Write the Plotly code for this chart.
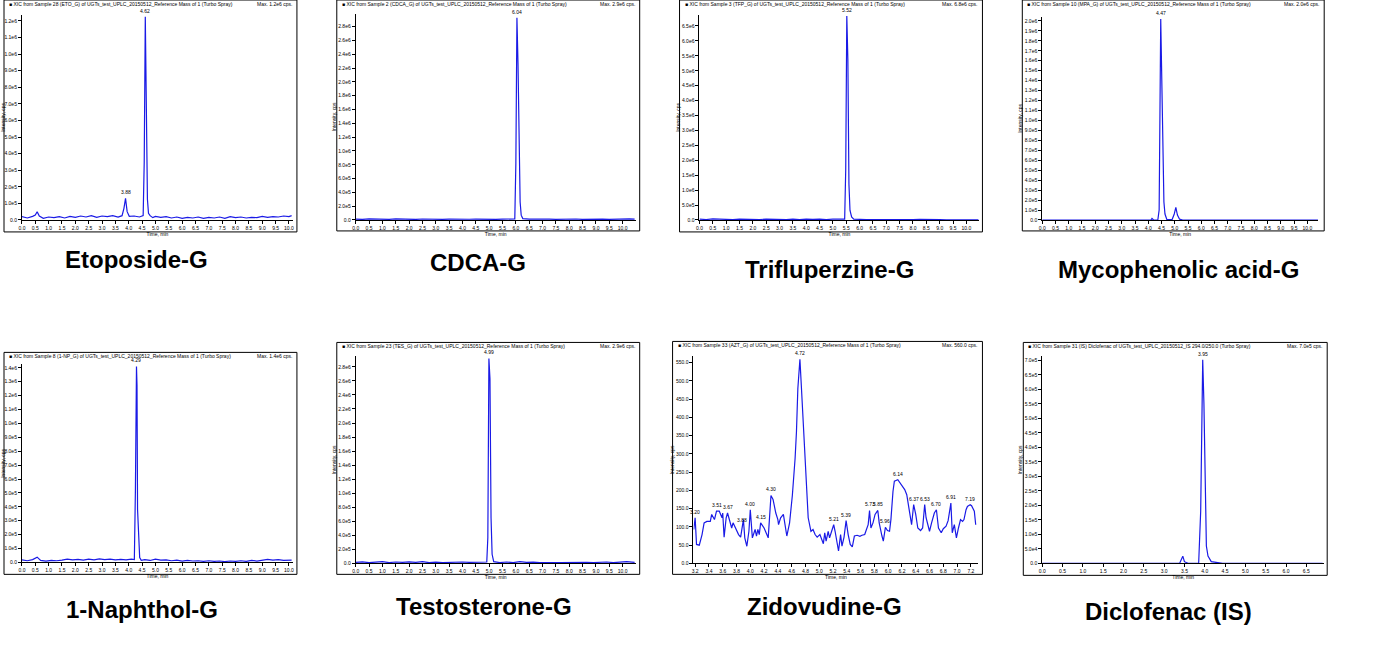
import plotly.graph_objects as go

W, H = 1380, 654

# ---------------- data: time (min) / intensity (cps) ----------------
eto_t = [0.0, 0.2, 0.4, 0.5, 0.57, 0.65, 0.8, 1.0, 1.2, 1.4, 1.6, 1.8, 2.0, 2.2, 2.4, 2.6, 2.8, 3.0,
         3.2, 3.4, 3.6, 3.75, 3.82, 3.88, 3.94, 4.02, 4.2, 4.4, 4.54, 4.58, 4.62, 4.66, 4.70, 4.74,
         4.80, 4.9, 5.0, 5.2, 5.4, 5.6, 5.8, 6.0, 6.2, 6.4, 6.6, 6.8, 7.0, 7.2, 7.4, 7.6, 7.8, 8.0,
         8.2, 8.4, 8.6, 8.8, 9.0, 9.2, 9.4, 9.6, 9.8, 10.0, 10.1]
eto_i = [20000, 12000, 22000, 30000, 50000, 24000, 10000, 18000, 14000, 20000, 12000, 22000, 16000,
         24000, 18000, 26000, 16000, 24000, 20000, 26000, 18000, 26000, 70000, 130000, 50000, 22000,
         24000, 18000, 26000, 350000, 1225000, 470000, 125000, 40000, 26000, 14000, 22000, 16000,
         20000, 12000, 18000, 10000, 16000, 12000, 18000, 10000, 16000, 12000, 18000, 10000, 20000,
         14000, 18000, 12000, 16000, 14000, 22000, 16000, 20000, 18000, 24000, 20000, 26000]

cdca_t = [0.0, 0.25, 0.5, 0.75, 1.0, 1.25, 1.5, 1.75, 2.0, 2.25, 2.5, 2.75, 3.0, 3.25, 3.5, 3.75,
          4.0, 4.25, 4.5, 4.75, 5.0, 5.25, 5.5, 5.75, 5.96, 6.00, 6.04, 6.08, 6.12, 6.16, 6.20, 6.26,
          6.5, 6.75, 7.0, 7.25, 7.5, 7.75, 8.0, 8.25, 8.5, 8.75, 9.0, 9.25, 9.5, 9.75, 10.0, 10.25, 10.45]
cdca_i = [12000, 8000, 16000, 10000, 14000, 9000, 15000, 11000, 13000, 8000, 14000, 10000, 12000,
          9000, 13000, 10000, 15000, 11000, 12000, 8000, 14000, 10000, 13000, 9000, 15000, 820000,
          2930000, 2270000, 800000, 260000, 70000, 20000, 12000, 15000, 10000, 13000, 9000, 12000,
          10000, 14000, 8000, 12000, 10000, 13000, 9000, 14000, 11000, 16000, 12000]

tfp_t = [0.0, 0.25, 0.5, 0.75, 1.0, 1.25, 1.5, 1.75, 2.0, 2.25, 2.5, 2.75, 3.0, 3.25, 3.5, 3.75,
         4.0, 4.25, 4.5, 4.75, 5.0, 5.25, 5.44, 5.48, 5.52, 5.56, 5.60, 5.64, 5.70, 5.78, 6.0, 6.25,
         6.5, 6.75, 7.0, 7.25, 7.5, 7.75, 8.0, 8.25, 8.5, 8.75, 9.0, 9.25, 9.5, 9.75, 10.0, 10.25, 10.45]
tfp_i = [30000, 15000, 35000, 20000, 30000, 12000, 28000, 18000, 32000, 15000, 30000, 20000, 34000,
         16000, 28000, 14000, 30000, 18000, 32000, 15000, 28000, 20000, 30000, 1700000, 6830000,
         5370000, 1200000, 320000, 100000, 30000, 15000, 10000, 12000, 8000, 10000, 6000, 15000,
         8000, 12000, 18000, 9000, 6000, 10000, 8000, 12000, 6000, 10000, 14000, 8000]

mpa_t = [0.0, 1.0, 2.0, 3.0, 4.0, 4.10, 4.14, 4.20, 4.36, 4.41, 4.47, 4.51, 4.55, 4.59, 4.63, 4.70,
         4.90, 4.98, 5.04, 5.10, 5.18, 5.30, 6.0, 7.0, 8.0, 9.0, 10.4]
mpa_i = [0, 0, 0, 0, 0, 0, 15000, 0, 0, 100000, 2020000, 1230000, 450000, 180000, 60000, 5000,
         5000, 60000, 127000, 50000, 8000, 0, 0, 0, 0, 0, 0]

nap_t = [0.0, 0.2, 0.4, 0.57, 0.7, 0.9, 1.1, 1.3, 1.5, 1.7, 1.9, 2.1, 2.3, 2.5, 2.7, 2.9, 3.1, 3.3,
         3.5, 3.7, 3.9, 4.1, 4.21, 4.25, 4.29, 4.31, 4.33, 4.37, 4.41, 4.47, 4.6, 4.8, 5.0, 5.2, 5.4,
         5.6, 5.8, 6.0, 6.2, 6.4, 6.6, 6.8, 7.0, 7.2, 7.4, 7.6, 7.8, 8.0, 8.2, 8.4, 8.6, 8.8, 9.0,
         9.2, 9.4, 9.6, 9.8, 10.0, 10.1]
nap_i = [18000, 12000, 20000, 38000, 14000, 10000, 15000, 12000, 16000, 24000, 18000, 22000, 16000,
         24000, 18000, 26000, 20000, 24000, 18000, 22000, 18000, 24000, 20000, 520000, 1410000,
         1270000, 380000, 115000, 35000, 15000, 20000, 14000, 24000, 16000, 18000, 12000, 16000,
         10000, 14000, 10000, 12000, 8000, 12000, 8000, 10000, 6000, 10000, 8000, 12000, 8000,
         14000, 10000, 16000, 22000, 16000, 20000, 14000, 18000, 16000]

tes_t = [0.0, 0.25, 0.5, 0.75, 1.0, 1.25, 1.5, 1.75, 2.0, 2.25, 2.5, 2.75, 3.0, 3.25, 3.5, 3.75,
         4.0, 4.25, 4.5, 4.75, 4.91, 4.95, 4.99, 5.03, 5.07, 5.11, 5.17, 5.4, 5.65, 5.9, 6.15, 6.4,
         6.65, 6.9, 7.15, 7.4, 7.65, 7.9, 8.15, 8.4, 8.65, 8.9, 9.15, 9.4, 9.65, 9.9, 10.15, 10.45]
tes_i = [15000, 22000, 10000, 18000, 24000, 12000, 20000, 14000, 22000, 16000, 24000, 12000, 18000,
         10000, 16000, 12000, 20000, 14000, 18000, 12000, 20000, 370000, 2920000, 2630000, 650000,
         130000, 25000, 12000, 20000, 10000, 24000, 14000, 18000, 10000, 16000, 12000, 10000, 14000,
         8000, 12000, 16000, 10000, 14000, 20000, 12000, 18000, 24000, 14000]

zdv_t = [3.18, 3.20, 3.22, 3.26, 3.30, 3.33, 3.37, 3.42, 3.44, 3.48, 3.51, 3.55, 3.59, 3.60, 3.62,
         3.65, 3.67, 3.71, 3.73, 3.75, 3.80, 3.83, 3.86, 3.88, 3.90, 3.92, 3.95, 3.98, 4.00, 4.03,
         4.07, 4.09, 4.11, 4.13, 4.15, 4.20, 4.26, 4.30, 4.33, 4.37, 4.40, 4.41, 4.44, 4.48, 4.50,
         4.53, 4.57, 4.61, 4.65, 4.67, 4.69, 4.72, 4.74, 4.77, 4.79, 4.81, 4.84, 4.88, 4.91, 4.94,
         4.97, 5.01, 5.04, 5.06, 5.08, 5.10, 5.13, 5.15, 5.18, 5.21, 5.23, 5.26, 5.28, 5.31, 5.33,
         5.36, 5.39, 5.42, 5.45, 5.48, 5.51, 5.55, 5.59, 5.62, 5.66, 5.68, 5.71, 5.73, 5.75, 5.78,
         5.81, 5.85, 5.87, 5.91, 5.93, 5.96, 5.99, 6.02, 6.04, 6.07, 6.09, 6.14, 6.19, 6.24, 6.27,
         6.29, 6.32, 6.34, 6.37, 6.40, 6.43, 6.47, 6.50, 6.53, 6.55, 6.57, 6.60, 6.63, 6.67, 6.70,
         6.73, 6.77, 6.80, 6.84, 6.87, 6.91, 6.93, 6.96, 6.99, 7.02, 7.05, 7.08, 7.10, 7.13, 7.15,
         7.19, 7.21, 7.25, 7.27]
zdv_i = [93, 125, 52, 50, 79, 111, 115, 115, 134, 120, 143, 143, 125, 138, 72,
         125, 138, 106, 97, 111, 88, 79, 72, 102, 120, 70, 47, 88, 147, 70,
         93, 75, 93, 79, 111, 97, 70, 186, 175, 138, 120, 106, 125, 134, 106,
         75, 111, 186, 288, 361, 479, 559, 488, 370, 279, 206, 125, 88, 93, 79,
         72, 79, 65, 54, 84, 61, 88, 70, 88, 106, 88, 61, 34, 79, 47,
         72, 117, 79, 52, 45, 75, 77, 74, 77, 79, 90, 106, 145, 97, 111,
         134, 145, 111, 75, 61, 99, 90, 88, 120, 197, 225, 229, 215, 202, 188,
         161, 120, 106, 161, 134, 97, 90, 97, 161, 125, 111, 88, 111, 138, 147,
         97, 84, 95, 102, 117, 165, 84, 106, 70, 97, 120, 115, 120, 147, 156,
         161, 158, 143, 106]

dcf_t = [0.0, 1.0, 2.0, 3.0, 3.38, 3.46, 3.50, 3.59, 3.85, 3.90, 3.95, 3.98, 4.00, 4.02, 4.04,
         4.08, 4.16, 4.36, 4.44, 5.0, 6.0, 6.9]
dcf_i = [0, 0, 0, 0, 0, 25000, 6000, 0, 0, 180000, 702000, 550000, 374000, 150000, 60000,
         25000, 6000, 2000, 0, 0, 0, 0]

titles = ["Etoposide-G", "CDCA-G", "Trifluperzine-G", "Mycophenolic acid-G",
          "1-Naphthol-G", "Testosterone-G", "Zidovudine-G", "Diclofenac (IS)"]
headers = [
    "XIC from Sample 28 (ETO_G) of UGTs_test_UPLC_20150512_Reference Mass of 1 (Turbo Spray)",
    "XIC from Sample 2 (CDCA_G) of UGTs_test_UPLC_20150512_Reference Mass of 1 (Turbo Spray)",
    "XIC from Sample 3 (TFP_G) of UGTs_test_UPLC_20150512_Reference Mass of 1 (Turbo Spray)",
    "XIC from Sample 10 (MPA_G) of UGTs_test_UPLC_20150512_Reference Mass of 1 (Turbo Spray)",
    "XIC from Sample 8 (1-NP_G) of UGTs_test_UPLC_20150512_Reference Mass of 1 (Turbo Spray)",
    "XIC from Sample 23 (TES_G) of UGTs_test_UPLC_20150512_Reference Mass of 1 (Turbo Spray)",
    "XIC from Sample 33 (AZT_G) of UGTs_test_UPLC_20150512_Reference Mass of 1 (Turbo Spray)",
    "XIC from Sample 31 (IS) Diclofenac of UGTs_test_UPLC_20150512_IS 294.0/250.0 (Turbo Spray)",
]
max_labels = ["Max. 1.2e6 cps.", "Max. 2.9e6 cps.", "Max. 6.8e6 cps.", "Max. 2.0e6 cps.",
              "Max. 1.4e6 cps.", "Max. 2.9e6 cps.", "Max. 560.0 cps.", "Max. 7.0e5 cps."]
peak_times = [[3.88, 4.62], [6.04], [5.52], [4.47], [4.29], [4.99],
              [3.20, 3.51, 3.67, 3.88, 4.00, 4.15, 4.30, 4.72, 5.21, 5.39, 5.73, 5.85, 5.96,
               6.14, 6.37, 6.53, 6.70, 6.91, 7.19], [3.95]]

series = [(eto_t, eto_i), (cdca_t, cdca_i), (tfp_t, tfp_i), (mpa_t, mpa_i),
          (nap_t, nap_i), (tes_t, tes_i), (zdv_t, zdv_i), (dcf_t, dcf_i)]

# ---------------- layout per panel (pixels) ----------------
panels = [
    dict(box=(0, 0, 294, 233), plot=(18, 15, 290, 221), xr=(0, 10.15), x0=0, xd=0.5,
         ymax=1236000, yd=100000, ytop=1200000, title_xy=(133, 261), hy=4),
    dict(box=(334, 0, 638, 232), plot=(353, 14, 634, 221), xr=(0, 10.49), x0=0, xd=0.5,
         ymax=2985000, yd=200000, ytop=2800000, title_xy=(476, 264), hy=4),
    dict(box=(678, 0, 982, 233), plot=(698, 15, 979, 221), xr=(0, 10.49), x0=0, xd=0.5,
         ymax=6870000, yd=500000, ytop=6500000, title_xy=(828, 271), hy=4),
    dict(box=(1022, 0, 1325, 232), plot=(1042, 17, 1319, 221), xr=(0, 10.41), x0=0, xd=0.5,
         ymax=2040000, yd=100000, ytop=2000000, title_xy=(1179, 271), hy=4),
    dict(box=(0, 354, 294, 577), plot=(18, 366, 290, 565), xr=(0, 10.15), x0=0, xd=0.5,
         ymax=1425000, yd=100000, ytop=1400000, title_xy=(139, 612), hy=358),
    dict(box=(334, 344, 638, 577), plot=(353, 358, 634, 566), xr=(0, 10.49), x0=0, xd=0.5,
         ymax=2950000, yd=200000, ytop=2800000, title_xy=(482, 609), hy=348),
    dict(box=(671, 343, 982, 577), plot=(692, 358, 978, 566), xr=(3.176, 7.31), x0=3.2, xd=0.2,
         ymax=567, yd=50, ytop=550, title_xy=(823, 609), hy=347),
    dict(box=(1023, 344, 1328, 578), plot=(1042, 358, 1325, 566), xr=(0, 6.94), x0=0, xd=0.5,
         ymax=714000, yd=50000, ytop=700000, title_xy=(1169, 614), hy=348),
]


def fx(x):
    return x / W


def fy(y):
    return 1 - y / H


def ylab(v, small):
    if v == 0:
        return "0.0"
    if small:
        return f"{v:.1f}"
    s = f"{v:.1e}"
    m, e = s.split("e")
    return f"{m}e{int(e)}"


tiny = dict(family="Liberation Sans, Arial", size=5, color="black")
line_col = "#1a1ae6"

fig = go.Figure()
shapes = []
annotations = []
layout_axes = {}

for k, (p, (t, inten)) in enumerate(zip(panels, series)):
    n = k + 1
    xa = "x" if n == 1 else f"x{n}"
    ya = "y" if n == 1 else f"y{n}"
    fig.add_trace(go.Scatter(x=t, y=inten, mode="lines", xaxis=xa, yaxis=ya,
                             line=dict(color=line_col, width=1.2), showlegend=False,
                             hoverinfo="skip"))

    l, tp, r, b = p["plot"]
    small = p["ymax"] < 10000
    tv = []
    v = 0
    while v <= p["ytop"] + 1e-9:
        tv.append(v)
        v += p["yd"]
    axis_common = dict(showline=True, linecolor="black", linewidth=1, ticks="outside",
                       ticklen=3, tickwidth=1, tickcolor="black", showgrid=False,
                       zeroline=False, tickfont=tiny, fixedrange=True)
    layout_axes["xaxis" if n == 1 else f"xaxis{n}"] = dict(
        axis_common, domain=[fx(l), fx(r)], anchor=ya, range=list(p["xr"]),
        tick0=p["x0"], dtick=p["xd"], tickformat=".1f",
        title=dict(text="Time, min", font=tiny, standoff=1))
    layout_axes["yaxis" if n == 1 else f"yaxis{n}"] = dict(
        axis_common, domain=[fy(b), fy(tp)], anchor=xa, range=[0, p["ymax"]],
        tickvals=tv, ticktext=[ylab(u, small) for u in tv],
        title=dict(text="Intensity, cps", font=tiny, standoff=1))

    bl, bt, br, bb = p["box"]
    shapes.append(dict(type="rect", xref="paper", yref="paper", x0=fx(bl), x1=fx(br),
                       y0=fy(bb), y1=fy(bt), line=dict(color="black", width=1)))

    annotations.append(dict(xref="paper", yref="paper", x=fx(bl + 3), y=fy(p["hy"]),
                            text="\u25a0 " + headers[k], showarrow=False, xanchor="left",
                            yanchor="middle", font=tiny))
    annotations.append(dict(xref="paper", yref="paper", x=fx(br - 3), y=fy(p["hy"]),
                            text=max_labels[k], showarrow=False, xanchor="right",
                            yanchor="middle", font=tiny))

    for pt in peak_times[k]:
        j = t.index(pt)
        annotations.append(dict(xref=xa, yref=ya, x=pt, y=inten[j], text=f"{pt:.2f}",
                                showarrow=False, yanchor="bottom", yshift=1, font=tiny))

    tx, ty = p["title_xy"]
    annotations.append(dict(xref="paper", yref="paper", x=fx(tx), y=fy(ty), text=titles[k],
                            showarrow=False, xanchor="center", yanchor="middle",
                            font=dict(family="Liberation Sans, Arial", size=24,
                                      color="black", weight="bold")))

fig.update_layout(width=W, height=H, margin=dict(l=0, r=0, t=0, b=0),
                  paper_bgcolor="white", plot_bgcolor="white",
                  shapes=shapes, annotations=annotations, **layout_axes)

fig.write_html("out.html", config={"displayModeBar": False},
               post_script="document.body.style.margin='0';")
